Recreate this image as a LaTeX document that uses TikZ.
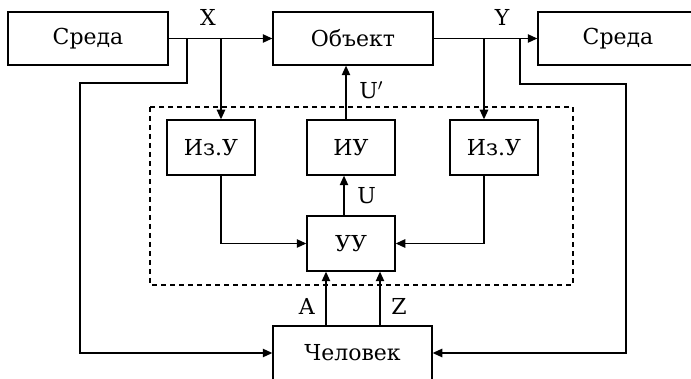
\documentclass[tikz,border=0pt]{standalone}
\usepackage{fontspec}
\setmainfont{DejaVu Serif}
\usetikzlibrary{arrows.meta}

\begin{document}
\begin{tikzpicture}[x=0.5pt, y=-0.5pt, font=\fontsize{11}{13}\selectfont,
    >={Triangle[length=4.8pt, width=4.2pt]}, line width=0.65pt,
    blk/.style={draw, line width=0.65pt, inner sep=0pt},
    wide/.style={blk, minimum width=80pt, minimum height=26.5pt},
    unit/.style={blk, minimum width=44pt, minimum height=27.5pt}]
    \clip (0,0) rectangle (691,379);
    % outer blocks
    \node[wide] (envL) at (88,38.5) {Среда};
    \node[wide] (obj) at (353,38.5) {Объект};
    \node[wide] (envR) at (618,38.5) {Среда};
    \node[wide, minimum width=79.5pt, minimum height=27pt] (man) at (352.5,353) {Человек};
    % control system
    \draw[dashed, dash pattern=on 2.5pt off 2pt] (150,107) rectangle (573,285);
    \node[unit] (izL) at (211,147.5) {Из.У};
    \node[unit] (iu) at (351,147.5) {ИУ};
    \node[unit] (izR) at (494,147.5) {Из.У};
    \node[unit] (uu) at (351,243.5) {УУ};
    % branch points
    \coordinate (xa) at (187,38.5);
    \coordinate (xb) at (221,38.5);
    \coordinate (ya) at (484,38.5);
    \coordinate (yb) at (520,38.5);
    % signals X and Y
    \draw[->] (envL) -- (obj) node[pos=0.38, above=3pt] {X};
    \draw[->] (obj) -- (envR) node[pos=0.66, above=3pt] {Y};
    \draw[->] (xa) -- (187,83) -- (80,83) |- (man.west);
    \draw[->] (yb) -- (520,84) -- (626,84) |- (man.east);
    \draw[->] (xb) -- (xb |- izL.north);
    \draw[->] (ya) -- (ya |- izR.north);
    % inside the control system
    \draw[->] (izL.south -| xb) |- (uu.west);
    \draw[->] (izR.south -| ya) |- (uu.east);
    \draw[->] (uu.north -| 344,0) -- (iu.south -| 344,0) node[midway, right=3pt] {U};
    \draw[->] (iu.north -| 346,0) -- (obj.south -| 346,0) node[pos=0.55, right=3pt] {U$'$};
    \draw[->] (man.north -| 326,0) -- (uu.south -| 326,0) node[pos=0.35, left=2pt] {A};
    \draw[->] (man.north -| 380,0) -- (uu.south -| 380,0) node[pos=0.35, right=2pt] {Z};
\end{tikzpicture}
\end{document}
